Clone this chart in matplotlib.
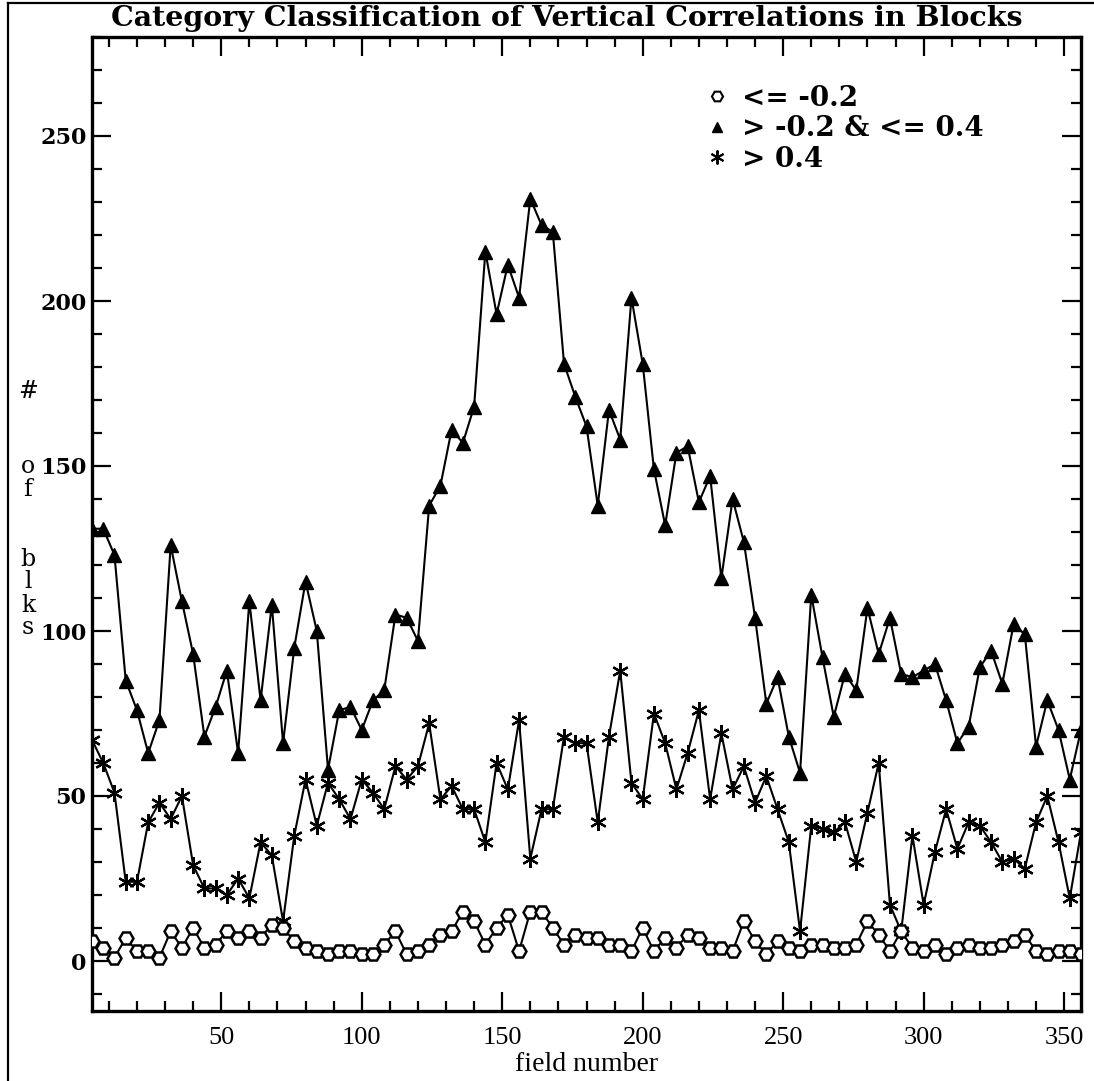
import matplotlib
matplotlib.use("Agg")
import matplotlib.pyplot as plt
from matplotlib.lines import Line2D
from matplotlib.ticker import MultipleLocator

# field numbers sampled every 4th field
field = list(range(4, 357, 4))

# block counts per correlation category
low_corr = [6, 4, 1, 7, 3, 3, 1, 9, 4, 10,
            4, 5, 9, 7, 9, 7, 11, 10, 6, 4,
            3, 2, 3, 3, 2, 2, 5, 9, 2, 3,
            5, 8, 9, 15, 12, 5, 10, 14, 3, 15,
            15, 10, 5, 8, 7, 7, 5, 5, 3, 10,
            3, 7, 4, 8, 7, 4, 4, 3, 12, 6,
            2, 6, 4, 3, 5, 5, 4, 4, 5, 12,
            8, 3, 9, 4, 3, 5, 2, 4, 5, 4,
            4, 5, 6, 8, 3, 2, 3, 3, 2]

mid_corr = [131, 131, 123, 85, 76, 63, 73, 126, 109, 93,
            68, 77, 88, 63, 109, 79, 108, 66, 95, 115,
            100, 58, 76, 77, 70, 79, 82, 105, 104, 97,
            138, 144, 161, 157, 168, 215, 196, 211, 201, 231,
            223, 221, 181, 171, 162, 138, 167, 158, 201, 181,
            149, 132, 154, 156, 139, 147, 116, 140, 127, 104,
            78, 86, 68, 57, 111, 92, 74, 87, 82, 107,
            93, 104, 87, 86, 88, 90, 79, 66, 71, 89,
            94, 84, 102, 99, 65, 79, 70, 55, 70]

high_corr = [67, 60, 51, 24, 24, 42, 48, 43, 50, 29,
             22, 22, 20, 25, 19, 36, 32, 12, 38, 55,
             41, 54, 49, 43, 55, 51, 46, 59, 55, 59,
             72, 49, 53, 46, 46, 36, 60, 52, 73, 31,
             46, 46, 68, 66, 66, 42, 68, 88, 54, 49,
             75, 66, 52, 63, 76, 49, 69, 52, 59, 48,
             56, 46, 36, 9, 41, 40, 39, 42, 30, 45,
             60, 17, 9, 38, 17, 33, 46, 34, 42, 41,
             36, 30, 31, 28, 42, 50, 36, 19, 39]

legend_labels = ["<= -0.2", "> -0.2 & <= 0.4", "> 0.4"]
ylabel_chars = ["#", "o", "f", "b", "l", "k", "s"]
ylabel_rows = [392, 466, 489, 559, 582, 605, 628]

W, H = 1094, 1081
ASTERISK = (6, 2, 0)


def main():
    fig = plt.figure(figsize=(W / 100, H / 100), dpi=100)
    ax = fig.add_axes([92 / W, 1 - 1010.5 / H, 989 / W, 973.5 / H])

    ax.plot(field, mid_corr, color="k", lw=1.5, marker="^", ms=9.5,
            mfc="k", mec="k", zorder=3)
    ax.plot(field, high_corr, color="k", lw=1.5, marker=ASTERISK, ms=12,
            mew=1.6, mec="k", zorder=3)
    ax.plot(field, low_corr, color="k", lw=1.5, marker="H", ms=10,
            mfc="white", mec="k", mew=1.8, zorder=3)

    ax.set_xlim(4, 356)
    ax.set_ylim(-15, 280)
    ax.xaxis.set_major_locator(MultipleLocator(50))
    ax.xaxis.set_minor_locator(MultipleLocator(10))
    ax.yaxis.set_major_locator(MultipleLocator(50))
    ax.yaxis.set_minor_locator(MultipleLocator(10))
    ax.tick_params(which="both", direction="in", top=True, right=True,
                   width=1.6, color="k")
    ax.tick_params(which="major", length=14)
    ax.tick_params(which="minor", length=7)
    ax.tick_params(axis="x", which="major", pad=12)
    ax.tick_params(axis="y", which="major", pad=4)
    for lab in ax.get_xticklabels():
        lab.set_fontfamily("Liberation Serif")
        lab.set_fontsize(19)
    for lab in ax.get_yticklabels():
        lab.set_fontfamily("DejaVu Serif")
        lab.set_fontweight("bold")
        lab.set_fontsize(16)
    for sp in ax.spines.values():
        sp.set_linewidth(2.4)

    ax.set_xlabel("field number", fontfamily="Liberation Serif", fontsize=20,
                  labelpad=2)

    # stacked y label, one character per line
    for ch, row in zip(ylabel_chars, ylabel_rows):
        fig.text(28 / W, 1 - row / H, ch, ha="center", va="center",
                 fontfamily="DejaVu Serif", fontsize=17)

    fig.text(567 / W, 1 - 19 / H,
             "Category Classification of Vertical Correlations in Blocks",
             ha="center", va="center", fontfamily="DejaVu Serif",
             fontweight="bold", fontsize=20.5)

    handles = [
        Line2D([], [], ls="none", marker="H", ms=8, mfc="white", mec="k", mew=1.5),
        Line2D([], [], ls="none", marker="^", ms=7, mfc="k", mec="k"),
        Line2D([], [], ls="none", marker=ASTERISK, ms=10, mec="k", mew=1.4),
    ]
    ax.legend(handles, legend_labels, loc="upper left",
              bbox_to_anchor=((707 - 92) / 989, 1 - (85 - 37) / 973.5),
              frameon=False, handlelength=0.7, handletextpad=0.55,
              labelspacing=0.12, borderpad=0, borderaxespad=0,
              prop={"family": "DejaVu Serif", "weight": "bold", "size": 20})

    # page frame along the top and left edges
    fig.add_artist(Line2D([8 / W, 8 / W], [0, 1 - 3 / H], color="k", lw=1.6,
                          transform=fig.transFigure))
    fig.add_artist(Line2D([8 / W, 1], [1 - 3 / H, 1 - 3 / H], color="k", lw=1.6,
                          transform=fig.transFigure))

    fig.savefig("out.png", dpi=100)


if __name__ == "__main__":
    main()
